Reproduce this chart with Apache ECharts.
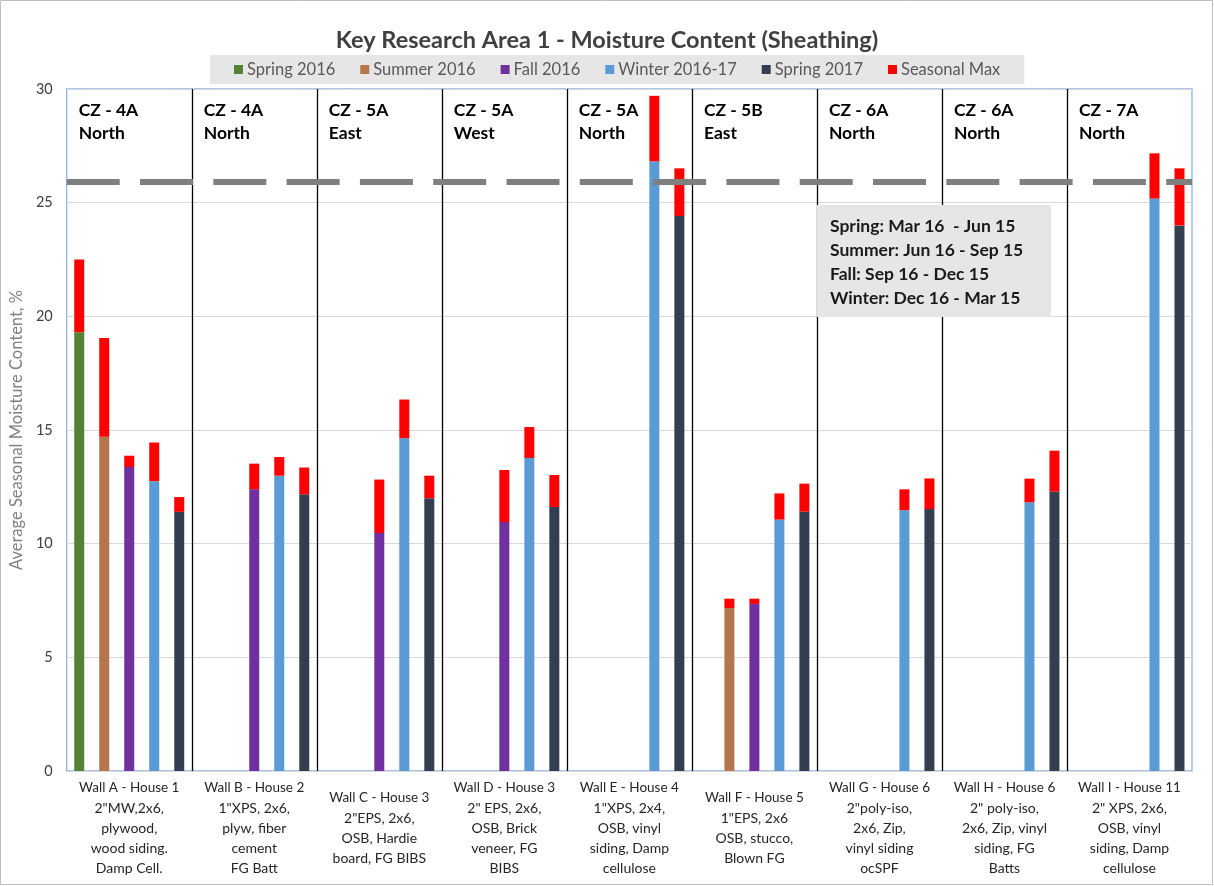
<!DOCTYPE html>
<html>
<head>
<meta charset="utf-8">
<script src="https://cdn.jsdelivr.net/npm/echarts@6/dist/echarts.min.js"></script>
<style>
html,body{margin:0;padding:0;background:#fff;}
#main{width:1214px;height:886px;}
</style>
</head>
<body>
<div id="main"></div>
<script>
const categories = [
  "Wall A - House 1\n2\"MW,2x6,\nplywood,\nwood siding.\nDamp Cell.",
  "Wall B - House 2\n1\"XPS, 2x6,\nplyw, fiber\ncement\nFG Batt",
  "Wall C - House 3\n2\"EPS, 2x6,\nOSB, Hardie\nboard, FG BIBS",
  "Wall D - House 3\n2\" EPS, 2x6,\nOSB, Brick\nveneer, FG\nBIBS",
  "Wall E - House 4\n1\"XPS, 2x4,\nOSB, vinyl\nsiding, Damp\ncellulose",
  "Wall F - House 5\n1\"EPS, 2x6\nOSB, stucco,\nBlown FG",
  "Wall G - House 6\n2\"poly-iso,\n2x6, Zip,\nvinyl siding\nocSPF",
  "Wall H - House 6\n2\" poly-iso,\n2x6, Zip, vinyl\nsiding, FG\nBatts",
  "Wall I - House 11\n2\" XPS, 2x6,\nOSB, vinyl\nsiding, Damp\ncellulose"
];
const regions = [
  "CZ - 4A\nNorth", "CZ - 4A\nNorth", "CZ - 5A\nEast", "CZ - 5A\nWest", "CZ - 5A\nNorth",
  "CZ - 5B\nEast", "CZ - 6A\nNorth", "CZ - 6A\nNorth", "CZ - 7A\nNorth"
];
const seasonNames = ["Spring 2016", "Summer 2016", "Fall 2016", "Winter 2016-17", "Spring 2017"];

// Seasonal averages
const spring2016Avg = [19.3, null, null, null, null, null, null, null, null];
const summer2016Avg = [14.7, null, null, null, null, 7.17, null, null, null];
const fall2016Avg   = [13.37, 12.39, 10.47, 10.95, null, 7.35, null, null, null];
const winterAvg     = [12.75, 12.99, 14.64, 13.77, 26.82, 11.06, 11.47, 11.82, 25.18];
const spring2017Avg = [11.4, 12.17, 12.0, 11.61, 24.41, 11.41, 11.52, 12.29, 24.0];

// Seasonal maxima
const spring2016Max = [22.5, null, null, null, null, null, null, null, null];
const summer2016Max = [19.05, null, null, null, null, 7.58, null, null, null];
const fall2016Max   = [13.87, 13.52, 12.82, 13.24, null, 7.58, null, null, null];
const winterMax     = [14.45, 13.81, 16.34, 15.13, 29.7, 12.21, 12.39, 12.86, 27.17];
const spring2017Max = [12.05, 13.35, 12.99, 13.02, 26.51, 12.64, 12.87, 14.09, 26.51];

const thresholdValue = 25.9;
const yTicks = [0, 5, 10, 15, 20, 25, 30];
const seasonNotes = ["Spring: Mar 16  - Jun 15", "Summer: Jun 16 - Sep 15", "Fall: Sep 16 - Dec 15", "Winter: Dec 16 - Mar 15"];

const avgs = [spring2016Avg, summer2016Avg, fall2016Avg, winterAvg, spring2017Avg];
const maxs = [spring2016Max, summer2016Max, fall2016Max, winterMax, spring2017Max];
const colors = ["#548235", "#B4764A", "#7030A0", "#5B9BD5", "#333F50"];
const FONT = "Lato";

const series = [];
avgs.forEach((arr, i) => {
  series.push({
    name: seasonNames[i], type: 'bar', stack: 's' + i, data: arr,
    barWidth: 10, barGap: '150%', itemStyle: { color: colors[i] }, z: 2
  });
});
maxs.forEach((arr, i) => {
  series.push({
    name: 'Seasonal Max', type: 'bar', stack: 's' + i,
    data: arr.map((m, j) => (m == null || avgs[i][j] == null) ? null : +(m - avgs[i][j]).toFixed(3)),
    barWidth: 10, barGap: '150%', itemStyle: { color: '#FF0000' }, z: 2
  });
});
series.push({
  name: 'sep', type: 'line', xAxisIndex: 1, yAxisIndex: 0, data: [], silent: true, z: 5,
  markLine: {
    silent: true, symbol: 'none', animation: false,
    label: { show: false },
    data: [
      ...[1,2,3,4,5,6,7,8].map(v => ({ xAxis: v, lineStyle: { color: '#000', width: 1.3, type: 'solid' } })),
      { yAxis: thresholdValue, lineStyle: { color: '#7F7F7F', width: 6, type: [53, 20.3], cap: 'butt' } }
    ]
  }
});

const chart = echarts.init(document.getElementById('main'));
chart.setOption({
  animation: false,
  backgroundColor: '#fff',
  textStyle: { fontFamily: FONT },
  title: {
    text: 'Key Research Area 1 - Moisture Content (Sheathing)',
    left: 'center', top: 23,
    textStyle: { fontFamily: FONT, fontSize: 23.5, fontWeight: 'bold', color: '#404040' }
  },
  legend: {
    data: [...seasonNames, 'Seasonal Max'],
    top: 55, left: 210,
    backgroundColor: '#E6E6E6',
    padding: [6, 24, 6, 24],
    itemWidth: 9, itemHeight: 9, itemGap: 25,
    icon: 'rect',
    textStyle: { fontFamily: FONT, fontSize: 16.5, color: '#595959', padding: [0, 0, 0, -1] }
  },
  grid: {
    left: 63, right: 22, top: 89, bottom: 115,
    show: true, borderColor: '#8EB4E3', borderWidth: 1.3, backgroundColor: 'transparent'
  },
  xAxis: [
    {
      type: 'category', data: categories,
      axisTick: { show: false }, axisLine: { show: false },
      axisLabel: {
        interval: 0, margin: 57, verticalAlign: 'middle',
        formatter: (v) => {
          const lines = v.split('\n');
          return '{h|' + lines[0] + '}\n' + lines.slice(1).map(l => '{b|' + l + '}').join('\n');
        },
        rich: {
          h: { fontFamily: FONT, fontSize: 13.5, color: '#262626', lineHeight: 20, align: 'center' },
          b: { fontFamily: FONT, fontSize: 14, color: '#262626', lineHeight: 20, align: 'center' }
        }
      }
    },
    {
      type: 'value', position: 'top', min: 0, max: 9, interval: 1,
      axisLine: { show: false }, axisTick: { show: false }, splitLine: { show: false },
      axisLabel: {
        inside: true, margin: 10, align: 'left', verticalAlign: 'top',
        showMinLabel: true, showMaxLabel: false,
        padding: [0, 0, 0, 12],
        formatter: (v) => {
          const r = regions[v];
          if (!r) return '';
          return r.split('\n').map(l => '{r|' + l + '}').join('\n');
        },
        rich: { r: { fontFamily: FONT, fontSize: 17.5, fontWeight: 'bold', color: '#000', lineHeight: 23 } }
      }
    }
  ],
  yAxis: {
    type: 'value', min: yTicks[0], max: yTicks[yTicks.length - 1], interval: 5,
    name: 'Average Seasonal Moisture Content, %',
    nameLocation: 'middle', nameGap: 38,
    nameTextStyle: { fontFamily: FONT, fontSize: 16.5, color: '#808080' },
    axisLine: { show: false }, axisTick: { show: false },
    axisLabel: { fontFamily: FONT, fontSize: 14.5, color: '#404040', margin: 14 },
    splitLine: { lineStyle: { color: '#D9D9D9', width: 1 } }
  },
  graphic: [
    {
      type: 'rect', z: 0, silent: true,
      shape: { x: 0.5, y: 0.5, width: 1212, height: 884 },
      style: { fill: null, stroke: '#BFBFBF', lineWidth: 1 }
    },
    {
      type: 'rect', z: 100, silent: true,
      shape: { x: 817, y: 205, width: 234, height: 112 },
      style: { fill: '#E7E6E6' }
    },
    {
      type: 'text', z: 101, silent: true,
      x: 830, y: 214,
      style: {
        text: seasonNotes.join('\n'),
        font: 'bold 17.5px ' + FONT, lineHeight: 24, fill: '#1A1A1A'
      }
    }
  ],
  series
});
</script>
</body>
</html>
